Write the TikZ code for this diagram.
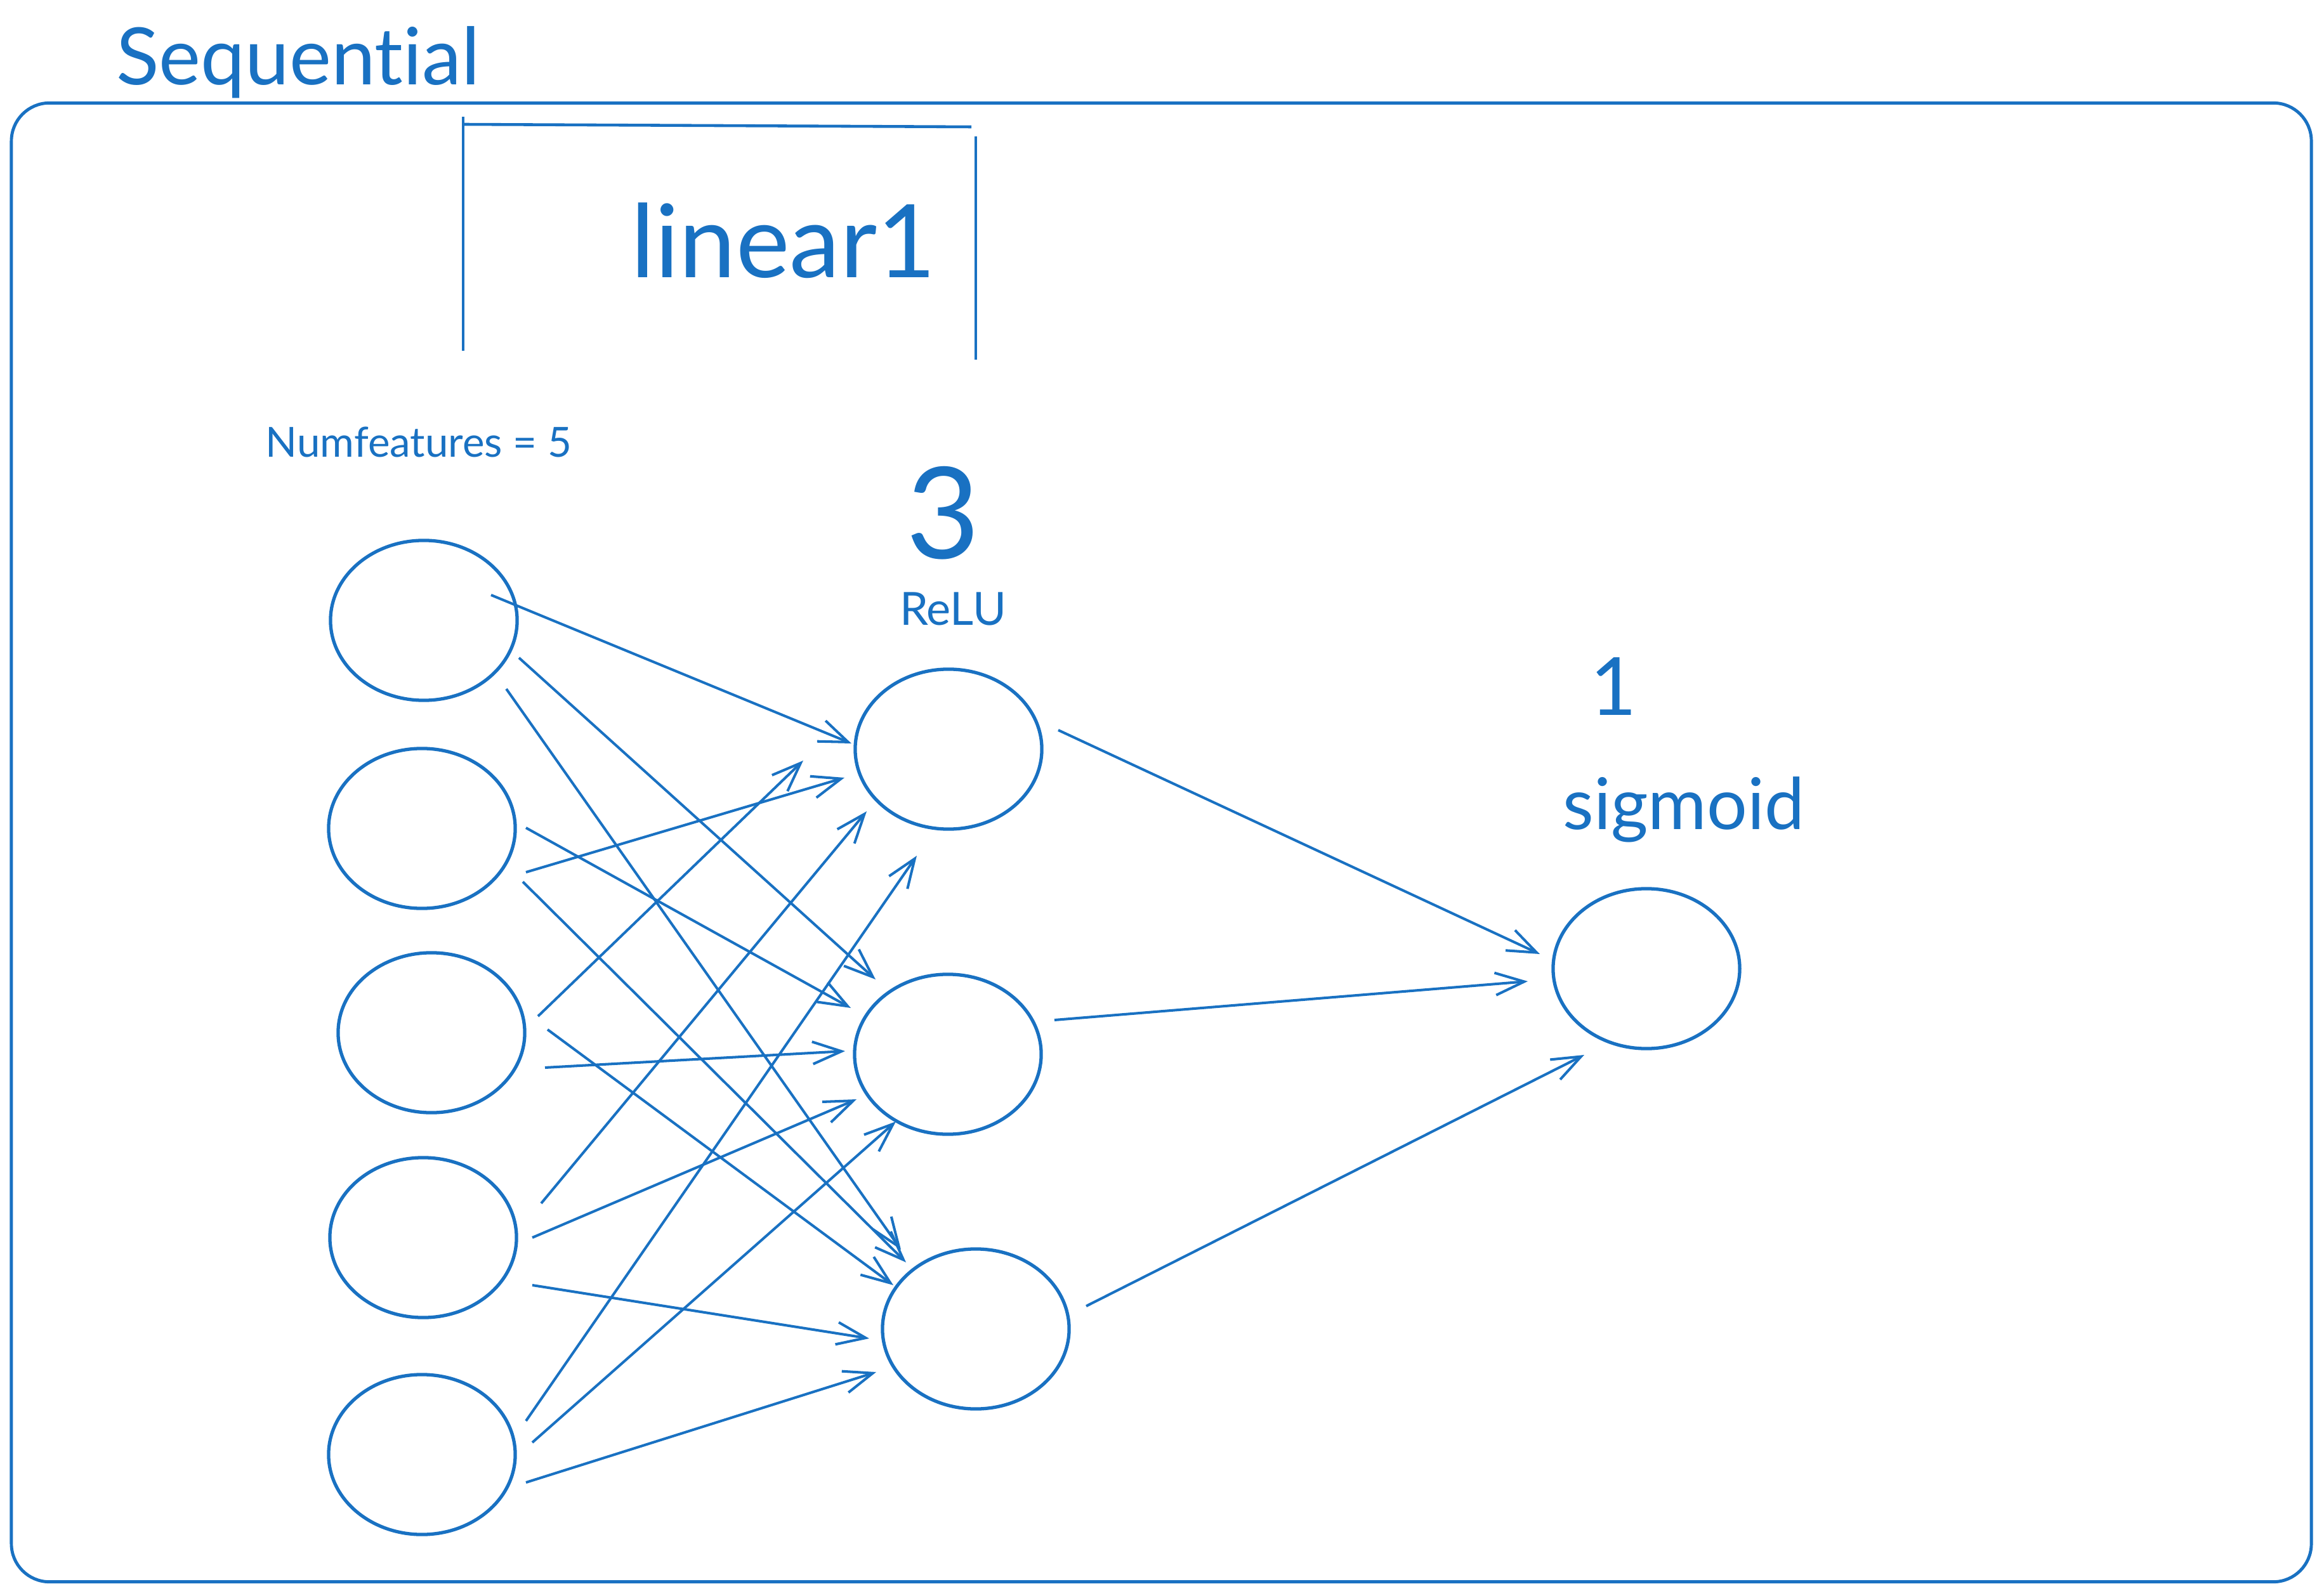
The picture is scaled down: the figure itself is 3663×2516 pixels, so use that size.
\documentclass[tikz,border=0pt]{standalone}
\usepackage{fontspec}
\setmainfont{Lato}[Ligatures=NoCommon]
\usetikzlibrary{shapes.geometric,arrows.meta}
\definecolor{exblue}{HTML}{1971C2}
\begin{document}
\begin{tikzpicture}[x=0.01cm,y=-0.01cm,
  every path/.style={color=exblue},
  frame/.style={draw=exblue,line width=1.4pt,rounded corners=0.6cm,minimum width=36.23cm,minimum height=23.3cm,inner sep=0pt},
  bracket/.style={draw=exblue,line width=1.3pt},
  neuron/.style={ellipse,draw=exblue,line width=1.5pt,minimum width=2.94cm,minimum height=2.52cm,inner sep=0pt},
  lbl/.style={text=exblue,inner sep=0pt,anchor=base},
  conn/.style={draw=exblue,line width=1.15pt,-{Straight Barb[length=13pt,width=10pt]}}]
\useasboundingbox (0,0) rectangle (3663,2516);
\node[frame] (seq) at (1830.5,1328) {};
\node[lbl,font=\fontsize{35.5}{40}\selectfont] (seqlbl) at (470,134) {Sequential};
% linear1 bracket
\coordinate (bl1) at (730,184); \coordinate (bl2) at (730,553);
\coordinate (bt1) at (730,196); \coordinate (bt2) at (1531,200);
\coordinate (br1) at (1538,215); \coordinate (br2) at (1538,567);
\draw[bracket] (bl1) -- (bl2);
\draw[bracket] (bt1) -- (bt2);
\draw[bracket] (br1) -- (br2);
\node[lbl,font=\fontsize{45.5}{50}\selectfont] (lin) at (1235,438) {linear1};
\node[lbl,font=\fontsize{18.6}{22}\selectfont] (numf) at (660,721) {Numfeatures = 5};
\node[lbl,font=\fontsize{57}{60}\selectfont] (three) at (1487,881) {3};
\node[lbl,font=\fontsize{20.5}{24}\selectfont] (relu) at (1502,986) {ReLU};
\node[lbl,font=\fontsize{36}{40}\selectfont] (one) at (2543,1128) {1};
\node[lbl,font=\fontsize{32}{36}\selectfont] (sig) at (2654,1307) {sigmoid};
% neurons
\node[neuron] (i1) at (668,978) {};
\node[neuron] (i2) at (665,1306) {};
\node[neuron] (i3) at (680,1628) {};
\node[neuron] (i4) at (667,1951) {};
\node[neuron] (i5) at (665,2293) {};
\node[neuron] (h1) at (1495,1181) {};
\node[neuron] (h2) at (1494,1662) {};
\node[neuron] (h3) at (1538,2095) {};
\node[neuron] (o1) at (2595,1527) {};
% connector end points
\coordinate (s11) at (774,938);  \coordinate (e11) at (1342,1172);
\coordinate (s12) at (818,1037); \coordinate (e12) at (1380,1544);
\coordinate (s13) at (798,1086); \coordinate (e13) at (1420,1970);
\coordinate (s21) at (829,1375); \coordinate (e21) at (1331,1226);
\coordinate (s22) at (829,1305); \coordinate (e22) at (1341,1589);
\coordinate (s23) at (824,1390); \coordinate (e23) at (1428,1990);
\coordinate (s31) at (848,1602); \coordinate (e31) at (1266,1199);
\coordinate (s32) at (859,1683); \coordinate (e32) at (1332,1657);
\coordinate (s33) at (863,1623); \coordinate (e33) at (1408,2026);
\coordinate (s41) at (853,1897); \coordinate (e41) at (1366,1279);
\coordinate (s42) at (839,1951); \coordinate (e42) at (1350,1733);
\coordinate (s43) at (839,2026); \coordinate (e43) at (1370,2110);
\coordinate (s51) at (829,2240); \coordinate (e51) at (1445,1349);
\coordinate (s52) at (839,2274); \coordinate (e52) at (1412,1768);
\coordinate (s53) at (829,2337); \coordinate (e53) at (1381,2163);
\coordinate (t1) at (1668,1151); \coordinate (u1) at (2427,1504);
\coordinate (t2) at (1662,1608); \coordinate (u2) at (2408,1547);
\coordinate (t3) at (1712,2059); \coordinate (u3) at (2497,1663);
\foreach \a in {1,...,5}{\foreach \b in {1,2,3}{\draw[conn] (s\a\b) -- (e\a\b);}}
\foreach \a in {1,2,3}{\draw[conn] (t\a) -- (u\a);}
\end{tikzpicture}
\end{document}
